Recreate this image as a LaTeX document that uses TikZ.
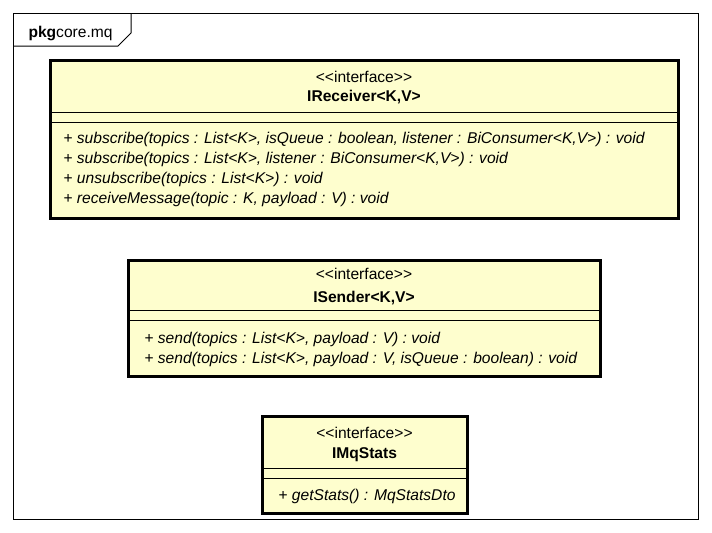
\documentclass[tikz,border=0pt]{standalone}
\usepackage{fontspec}
\setmainfont{Liberation Sans}[Ligatures=TeXOff]
\definecolor{ifacefill}{HTML}{FEFECE}
\tikzset{every path/.style={line width=0.75pt}}
\tikzset{
  iface/.style={draw,line width=2.25pt,fill=ifacefill,inner sep=0pt,outer sep=0pt,anchor=north west},
  stereo/.style={anchor=base,inner sep=0pt,font=\fontsize{11.7}{14}\selectfont},
  cname/.style={anchor=base,inner sep=0pt,font=\fontsize{11.7}{14}\selectfont\bfseries},
  op/.style={anchor=base west,inner sep=0pt,font=\fontsize{11.7}{14}\selectfont},
}

\begin{document}
\begin{tikzpicture}[x=0.75pt,y=-0.75pt]
  \useasboundingbox (0,0) rectangle (712,532);
  % package frame
  \draw (13,13) rectangle (698,519);
  \draw (13,46) -- (118,46) -- (131,33) -- (131,13);
  \node[anchor=base west,inner sep=0pt,font=\fontsize{11.7}{14}\selectfont] (pkg) at (28,37) {\textbf{pkg}core.mq};
  % IReceiver
  \node[iface,minimum width=471pt,minimum height=118.5pt] (recv) at (50.5,60.5) {};
  \draw (50,112) -- (678,112);
  \draw (50,122) -- (678,122);
  \node[stereo] (recvst) at (364,82) {<<interface>>};
  \node[cname] (recvnm) at (364,101) {IReceiver<K,V>};
  \node[op] (recv1) at (63,143) {+ \textit{subscribe(topics : List<K>, isQueue : boolean, listener : BiConsumer<K,V>) : void}};
  \node[op] (recv2) at (63,163) {+ \textit{subscribe(topics : List<K>, listener : BiConsumer<K,V>) : void}};
  \node[op] (recv3) at (63,183) {+ \textit{unsubscribe(topics : List<K>) : void}};
  \node[op] (recv4) at (63,203) {+ \textit{receiveMessage(topic : K, payload : V) : void}};
  % ISender
  \node[iface,minimum width=354pt,minimum height=87pt] (send) at (128.5,260.5) {};
  \draw (128,310) -- (600,310);
  \draw (128,320) -- (600,320);
  \node[stereo] (sendst) at (364,279) {<<interface>>};
  \node[cname] (sendnm) at (364,302) {ISender<K,V>};
  \node[op] (send1) at (144,343) {+ \textit{send(topics : List<K>, payload : V) : void}};
  \node[op] (send2) at (144,363) {+ \textit{send(topics : List<K>, payload : V, isQueue : boolean) : void}};
  % IMqStats
  \node[iface,minimum width=153.75pt,minimum height=72.75pt] (stats) at (262.5,416.5) {};
  \draw (262,468) -- (467,468);
  \draw (262,478) -- (467,478);
  \node[stereo] (statsst) at (364.5,438) {<<interface>>};
  \node[cname] (statsnm) at (364.5,458) {IMqStats};
  \node[op] (stats1) at (278,500) {+ \textit{getStats() : MqStatsDto}};
\end{tikzpicture}
\end{document}
